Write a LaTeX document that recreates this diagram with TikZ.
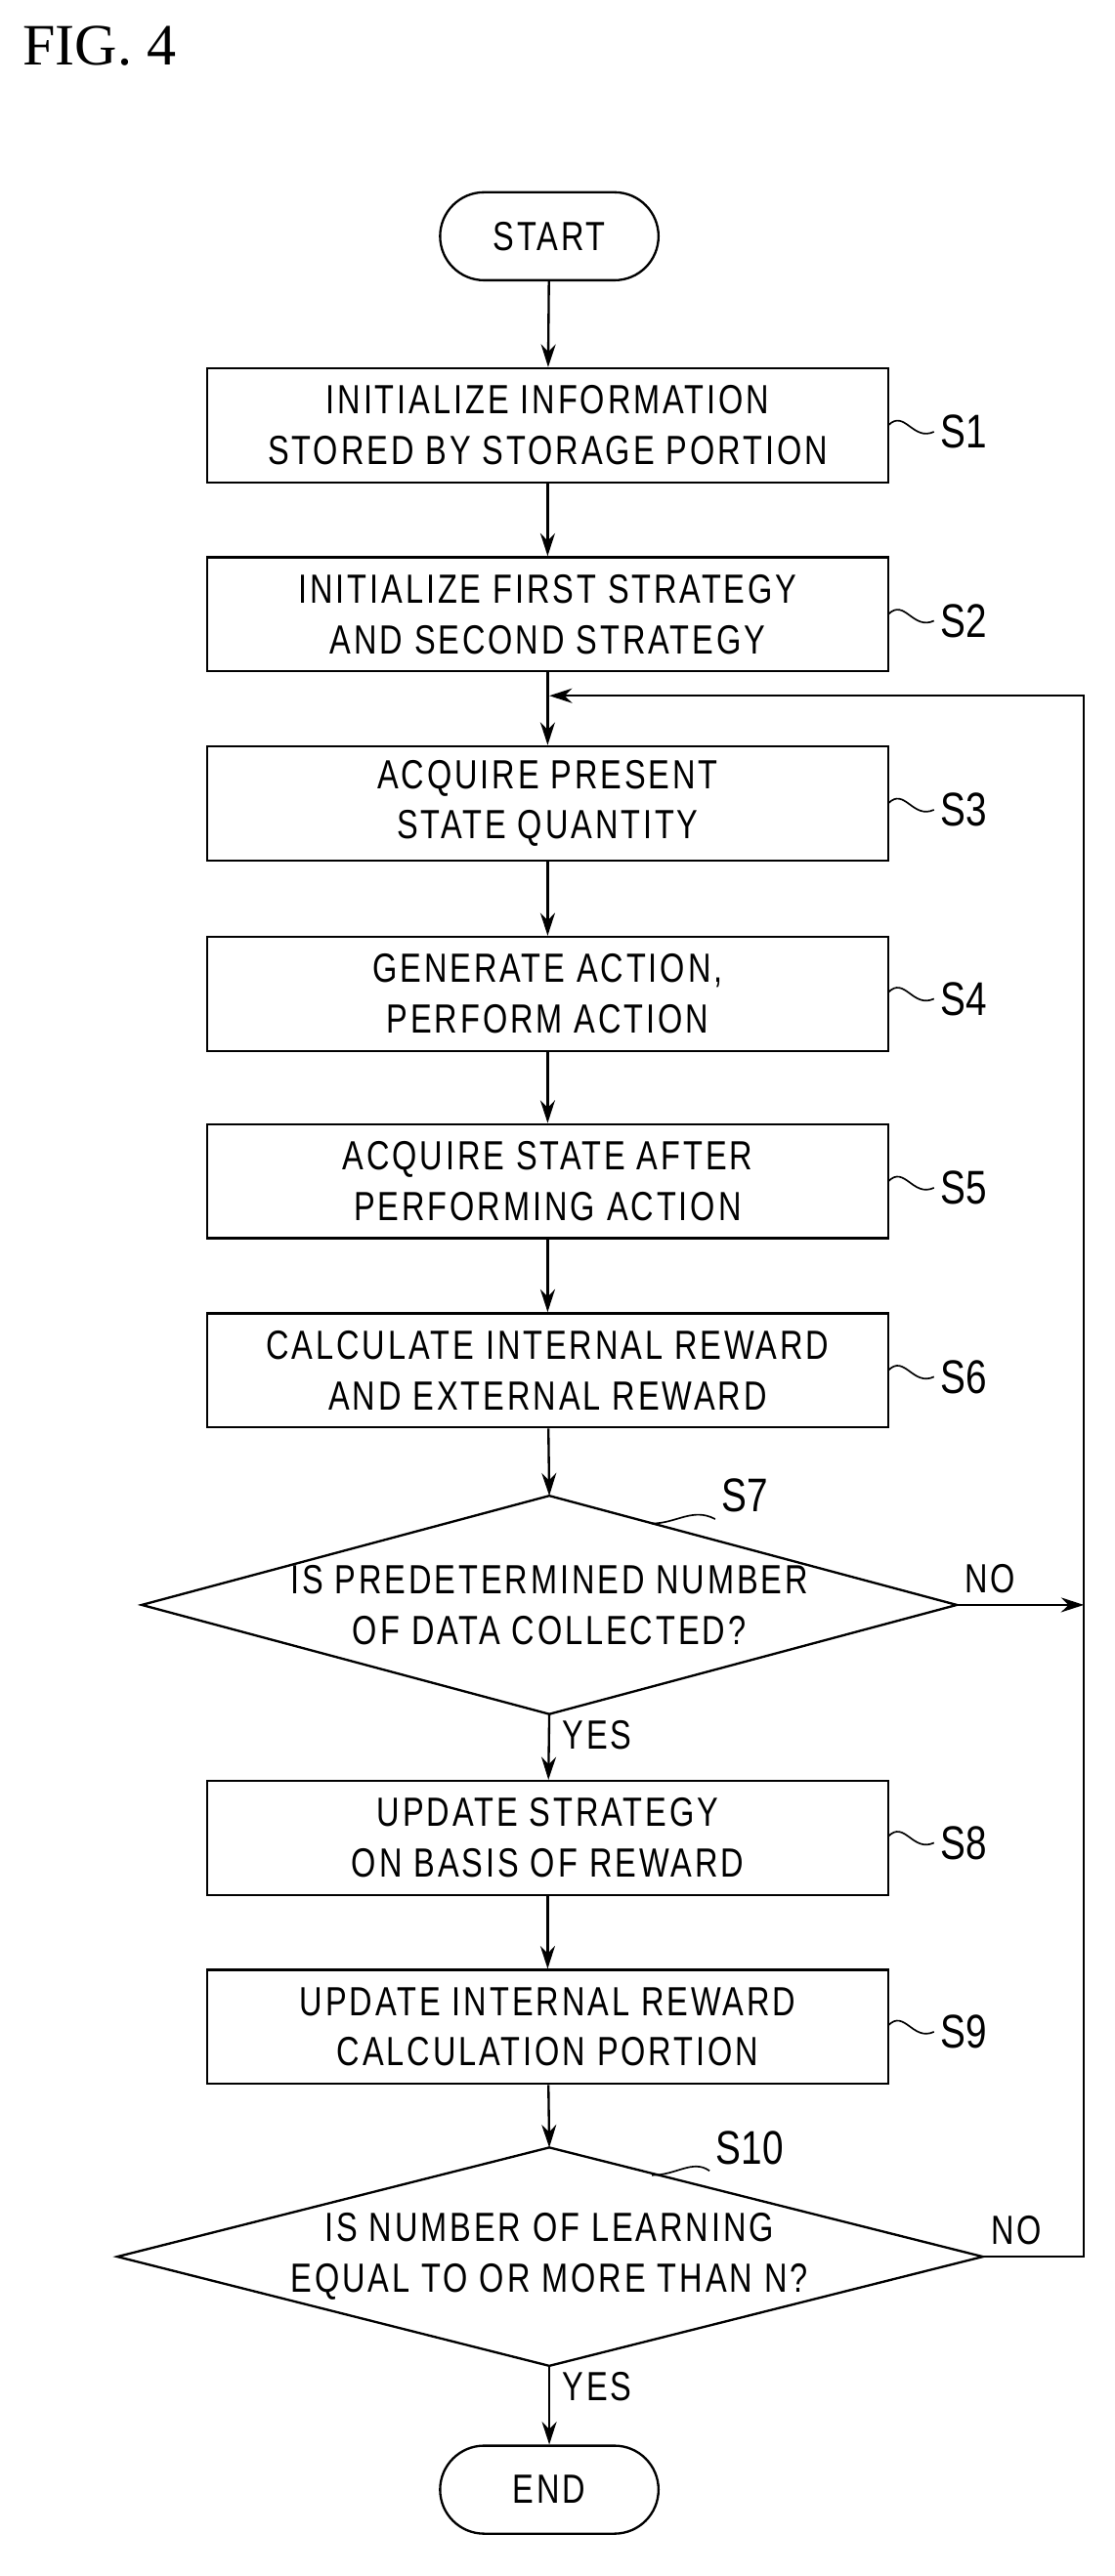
\documentclass[tikz,border=0pt]{standalone}
\usepackage{fontspec}
\setmainfont[FakeStretch=0.78,LetterSpace=7]{Liberation Sans}
\newfontfamily\labfont[FakeStretch=0.8]{Liberation Sans}
\newfontfamily\figfont{Liberation Serif}
\usetikzlibrary{shapes.geometric,arrows.meta}
\begin{document}
\begin{tikzpicture}[x=1pt,y=-1pt,line width=1.4pt,
  box/.style={draw,minimum width=418pt,minimum height=70pt,align=center,font=\fontsize{25}{31}\selectfont},
  term/.style={draw,rounded corners=27pt,minimum width=134pt,minimum height=54pt,font=\fontsize{25}{31}\selectfont},
  lab/.style={font=\labfont\fontsize{29}{30}\selectfont},
  arr/.style={-{Stealth[length=14pt,width=9pt]}}]
\useasboundingbox (0,0) rectangle (684,1581);
\node[anchor=west,font=\figfont\fontsize{36}{40}\selectfont] (fig) at (10,28) {FIG. 4};
\node[term] (st) at (337,145) {START};
\node[box] (s1) at (336,261) {INITIALIZE INFORMATION\\STORED BY STORAGE PORTION};
\node[box] (s2) at (336,377) {INITIALIZE FIRST STRATEGY\\AND SECOND STRATEGY};
\node[box] (s3) at (336,493) {ACQUIRE PRESENT\\STATE QUANTITY};
\node[box] (s4) at (336,610) {GENERATE ACTION,\\PERFORM ACTION};
\node[box] (s5) at (336,725) {ACQUIRE STATE AFTER\\PERFORMING ACTION};
\node[box] (s6) at (336,841) {CALCULATE INTERNAL REWARD\\AND EXTERNAL REWARD};
\draw (337,918) -- (587,985) -- (337,1052) -- (87,985) -- cycle;
\node[font=\fontsize{25}{31}\selectfont,align=center] (s7) at (337,985) {IS PREDETERMINED NUMBER\\OF DATA COLLECTED?};
\coordinate (s7t) at (337,918); \coordinate (s7b) at (337,1052); \coordinate (s7r) at (587,985);
\node[box] (s8) at (336,1128) {UPDATE STRATEGY\\ON BASIS OF REWARD};
\node[box] (s9) at (336,1244) {UPDATE INTERNAL REWARD\\CALCULATION PORTION};
\draw (337,1318) -- (603,1385) -- (337,1452) -- (72,1385) -- cycle;
\node[font=\fontsize{25}{31}\selectfont,align=center] (s10) at (337,1385) {IS NUMBER OF LEARNING\\EQUAL TO OR MORE THAN N?};
\coordinate (s10t) at (337,1318); \coordinate (s10b) at (337,1452); \coordinate (s10r) at (603,1385);
\node[term] (en) at (337,1528) {END};
\draw[arr] (st) -- (s1);
\draw[arr] (s1) -- (s2);
\draw[arr] (s2) -- (s3);
\draw[arr] (s3) -- (s4);
\draw[arr] (s4) -- (s5);
\draw[arr] (s5) -- (s6);
\draw[arr] (s6) -- (s7t);
\draw[arr] (s7b) -- (s8);
\draw[arr] (s8) -- (s9);
\draw[arr] (s9) -- (s10t);
\draw[arr] (s10b) -- (en);
\coordinate (lr) at (665,985);
\coordinate (lt) at (665,427);
\coordinate (lj) at (337,427);
\draw[arr] (s7r) -- (lr);
\draw[arr] (s10r) -- (665,1385) -- (lt) -- (lj);
\node[font=\fontsize{25}{30}\selectfont,anchor=south west] (no1) at (588,982) {NO};
\node[font=\fontsize{25}{30}\selectfont,anchor=south west] (no2) at (604,1382) {NO};
\node[font=\fontsize{25}{30}\selectfont,anchor=north west] (y1) at (341,1052) {YES};
\node[font=\fontsize{25}{30}\selectfont,anchor=north west] (y2) at (341,1452) {YES};
\foreach \n/\y in {1/265,2/381,3/497,4/613,5/729,6/845,8/1131,9/1247}{
  \node[lab,anchor=west] (l\n) at (573,\y) {S\n};
  \draw[line width=1pt] (545,\y-4) .. controls (555,\y-14) and (560,\y+6) .. (l\n.west);
}
\node[lab] (l7) at (457,918) {S7};
\draw[line width=1pt] (400,935) .. controls (415,935) and (425,925) .. (l7.south west);
\node[lab] (l10) at (460,1318) {S10};
\draw[line width=1pt] (400,1335) .. controls (415,1335) and (425,1325) .. (l10.south west);
\end{tikzpicture}
\end{document}
